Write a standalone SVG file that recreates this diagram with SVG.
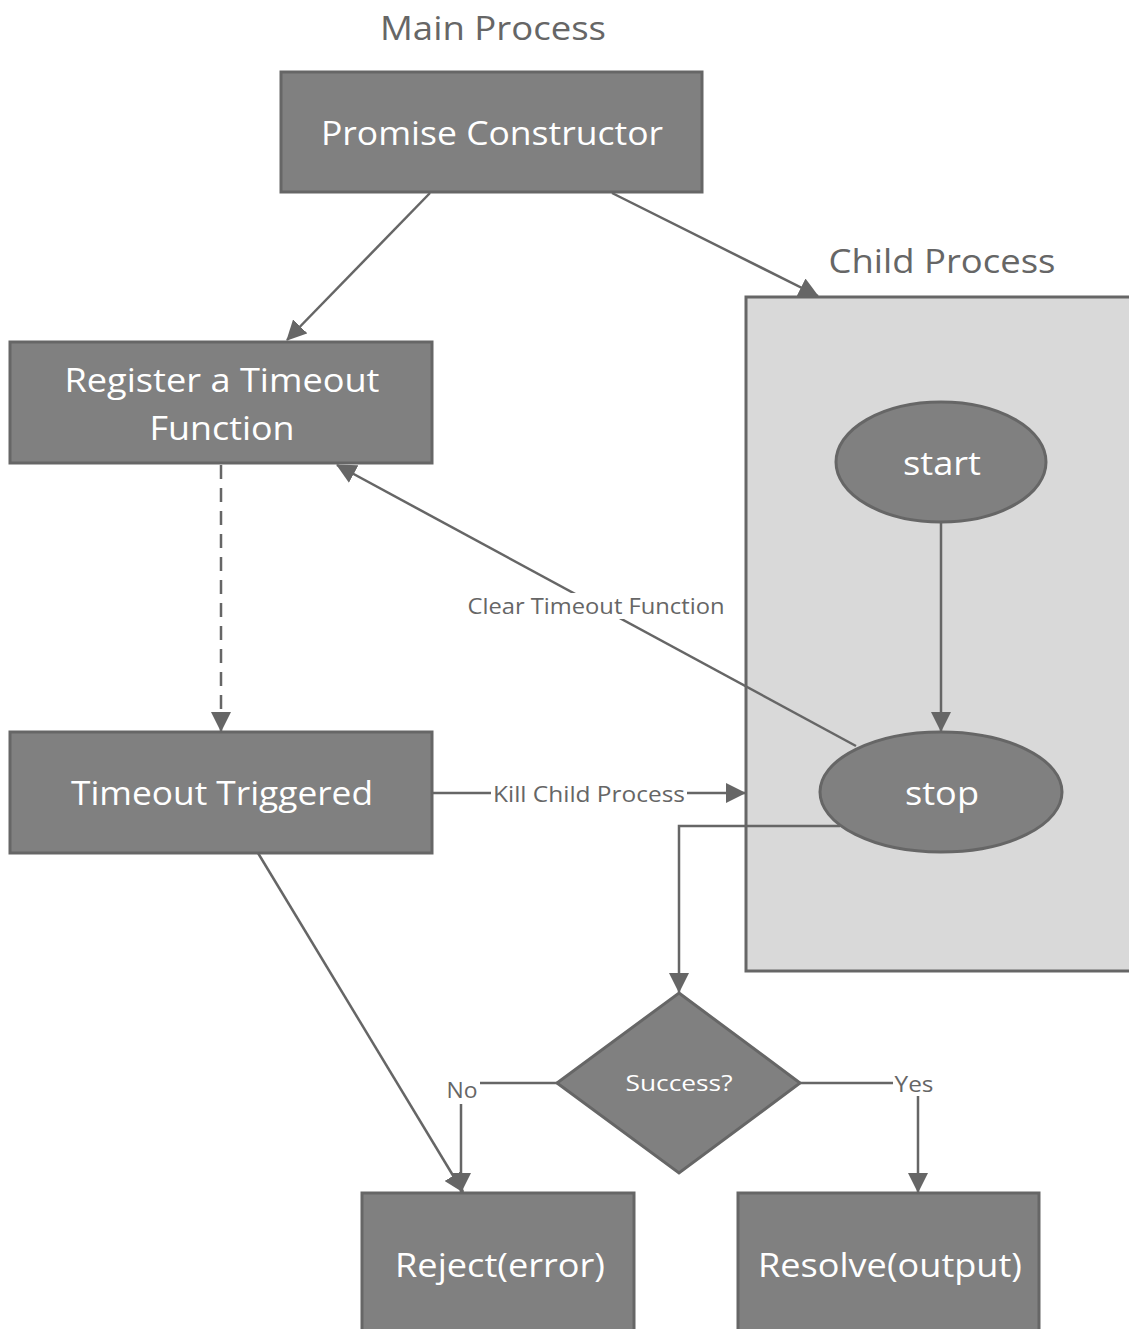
<svg xmlns="http://www.w3.org/2000/svg" width="1129" height="1329" viewBox="0 0 1129 1329">
<style>
.box{fill:#808080;stroke:#666666;stroke-width:3}
.cont{fill:#d9d9d9;stroke:#666666;stroke-width:3}
.t{font-family:"Open Sans","Liberation Sans",sans-serif;fill:#ffffff;font-size:32px;text-anchor:middle}
.h{font-family:"Open Sans","Liberation Sans",sans-serif;fill:#666666;font-size:32px;text-anchor:middle}
.l{font-family:"Open Sans","Liberation Sans",sans-serif;fill:#666666;font-size:21px;text-anchor:middle}
.s{font-family:"Open Sans","Liberation Sans",sans-serif;fill:#ffffff;font-size:21px;text-anchor:middle}
.c{fill:none;stroke:#666666;stroke-width:2.5}
.bg{fill:#ffffff}
</style>
<defs>
<marker id="a" markerUnits="userSpaceOnUse" markerWidth="22" markerHeight="20" refX="19" refY="10" orient="auto">
<path d="M0,0 L20,10 L0,20 Z" fill="#666666"/>
</marker>
</defs>
<rect width="1129" height="1329" fill="#ffffff"/>
<text class="h" x="493" y="40" textLength="226" lengthAdjust="spacingAndGlyphs">Main Process</text>
<g id="child-process">
<rect class="cont" x="746" y="297" width="390" height="674"/>
<text class="h" x="942" y="273" textLength="227" lengthAdjust="spacingAndGlyphs">Child Process</text>
</g>
<g id="promise-constructor">
<rect class="box" x="281" y="72" width="421" height="120"/>
<text class="t" x="492" y="145" textLength="342" lengthAdjust="spacingAndGlyphs">Promise Constructor</text>
</g>
<g id="register-timeout">
<rect class="box" x="10" y="342" width="422" height="121"/>
<text class="t" x="222" y="392" textLength="315" lengthAdjust="spacingAndGlyphs">Register a Timeout</text>
<text class="t" x="222" y="440" textLength="145" lengthAdjust="spacingAndGlyphs">Function</text>
</g>
<g id="timeout-triggered">
<rect class="box" x="10" y="732" width="422" height="121"/>
<text class="t" x="222" y="805" textLength="302" lengthAdjust="spacingAndGlyphs">Timeout Triggered</text>
</g>
<g id="start">
<ellipse class="box" cx="941" cy="462" rx="105" ry="60"/>
<text class="t" x="942" y="475" textLength="78" lengthAdjust="spacingAndGlyphs">start</text>
</g>
<g id="stop">
<ellipse class="box" cx="941" cy="792" rx="121" ry="60"/>
<text class="t" x="942" y="805" textLength="74" lengthAdjust="spacingAndGlyphs">stop</text>
</g>
<g id="success">
<polygon class="box" points="679,993 800,1083 679,1173 557,1083"/>
<text class="s" x="679" y="1091" textLength="107" lengthAdjust="spacingAndGlyphs">Success?</text>
</g>
<g id="reject">
<rect class="box" x="362" y="1193" width="272" height="145"/>
<text class="t" x="500" y="1277" textLength="210" lengthAdjust="spacingAndGlyphs">Reject(error)</text>
</g>
<g id="resolve">
<rect class="box" x="738" y="1193" width="301" height="145"/>
<text class="t" x="890" y="1277" textLength="264" lengthAdjust="spacingAndGlyphs">Resolve(output)</text>
</g>
<g id="connectors">
<line class="c" x1="430" y1="193" x2="287" y2="340" marker-end="url(#a)"/>
<line class="c" x1="612" y1="193" x2="818" y2="296" marker-end="url(#a)"/>
<line class="c" x1="221" y1="465" x2="221" y2="731" stroke-dasharray="14,9" marker-end="url(#a)"/>
<line class="c" x1="941" y1="523" x2="941" y2="731" marker-end="url(#a)"/>
<line class="c" x1="856" y1="746" x2="337" y2="465" marker-end="url(#a)"/>
<rect class="bg" x="466" y="593" width="262" height="26"/>
<text class="l" x="596" y="614" textLength="257" lengthAdjust="spacingAndGlyphs">Clear Timeout Function</text>
<line class="c" x1="433" y1="793" x2="745" y2="793" marker-end="url(#a)"/>
<rect class="bg" x="491" y="780" width="196" height="26"/>
<text class="l" x="589" y="802" textLength="192" lengthAdjust="spacingAndGlyphs">Kill Child Process</text>
<polyline class="c" points="840,826 679,826 679,992" marker-end="url(#a)"/>
<polyline class="c" points="557,1083 461,1083 461,1192" marker-end="url(#a)"/>
<rect class="bg" x="445" y="1078" width="35" height="26"/>
<text class="l" x="462" y="1098" textLength="31" lengthAdjust="spacingAndGlyphs">No</text>
<polyline class="c" points="800,1083 918,1083 918,1192" marker-end="url(#a)"/>
<rect class="bg" x="893" y="1070" width="43" height="26"/>
<text class="l" x="914" y="1092" textLength="39" lengthAdjust="spacingAndGlyphs">Yes</text>
<line class="c" x1="258" y1="853" x2="463" y2="1192" marker-end="url(#a)"/>
</g>
</svg>
